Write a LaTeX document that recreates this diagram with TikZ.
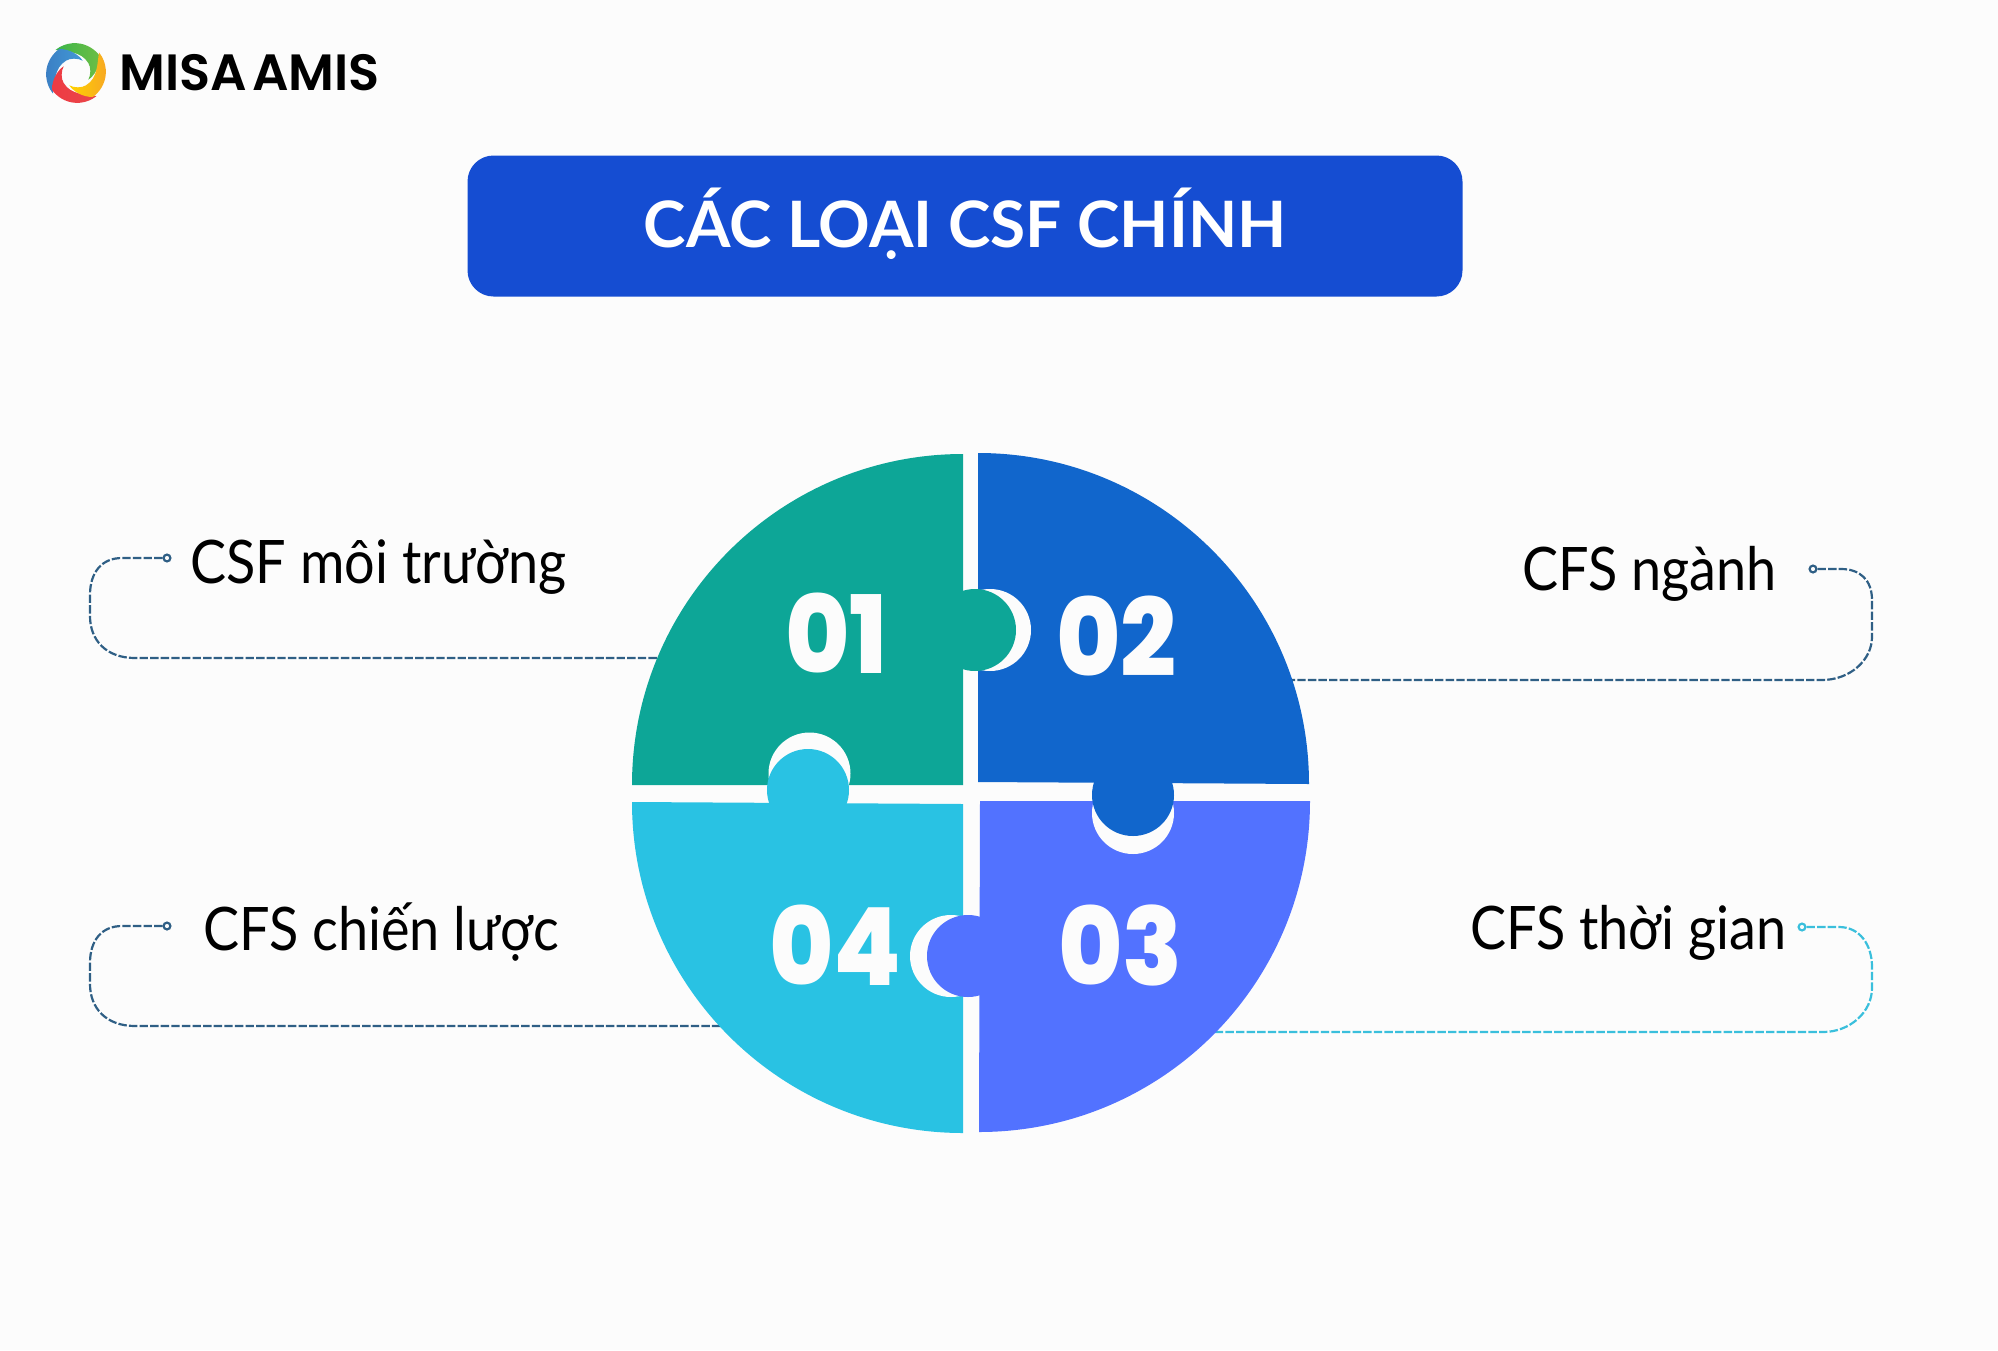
\documentclass[tikz,border=0pt]{standalone}
\usepackage{fontspec}
\setmainfont{Lato}[FakeStretch=0.9]
\newfontfamily\titlefont{Lato Bold}
\newfontfamily\logofont{Poppins SemiBold}
\newfontfamily\numfont{Poppins ExtraBold}[FakeStretch=0.91]
\definecolor{bgc}{HTML}{FCFCFC}
\definecolor{tealc}{HTML}{0DA697}
\definecolor{bluec}{HTML}{1166CC}
\definecolor{peric}{HTML}{5272FF}
\definecolor{cyanc}{HTML}{29C2E3}
\definecolor{titlec}{HTML}{154DD2}
\definecolor{linec}{HTML}{2F5F85}
\definecolor{linecy}{HTML}{3ABFDC}
\definecolor{lgreenA}{HTML}{3BB54A}\definecolor{lgreenB}{HTML}{6DBE45}
\definecolor{lblueA}{HTML}{4299D6}\definecolor{lblueB}{HTML}{3B7FC4}
\definecolor{lredA}{HTML}{EE3A43}\definecolor{lredB}{HTML}{E9474A}
\definecolor{lyelA}{HTML}{FFD200}\definecolor{lyelB}{HTML}{F7A823}
\tikzset{
  x=0.5pt,y=-0.5pt,
  conn/.style={line width=1.1pt,dash pattern=on 4.2pt off 1.1pt},
  pin/.style={circle,draw,line width=1.1pt,fill=bgc,inner sep=0pt,minimum size=3.4pt},
  lab/.style={font=\fontsize{30}{36}\selectfont,text=black,inner sep=0pt,anchor=base west},
  num/.style={font=\numfont\fontsize{54}{60}\selectfont,text=bgc,inner sep=0pt,anchor=base west},
}
\newcommand{\blade}{(24,-16.7) arc[start angle=-34.8,end angle=-129,radius=30.7] .. controls (-9,-21) and (5,-22) .. (12.3,-10) .. controls (15,-6) and (15,2) .. (12.3,6.7) .. controls (18,3) and (24,-6) .. (24,-16.7) -- cycle}
\begin{document}
\begin{tikzpicture}
\useasboundingbox (0,0) rectangle (1998,1350);
\fill[bgc] (0,0) rectangle (1998,1350);

% logo
\begin{scope}[shift={(76,73)}]
  \shade[left color=lgreenA,right color=lgreenB] \blade;
  \begin{scope}[rotate=90]
    \shade[left color=lblueB,right color=lblueA] \blade;
  \end{scope}
  \begin{scope}[rotate=180]
    \shade[left color=lredA,right color=lredB] \blade;
  \end{scope}
  \begin{scope}[rotate=-90]
    \shade[left color=lyelA,right color=lyelB] \blade;
  \end{scope}
\end{scope}
\node[inner sep=0pt,anchor=base west,font=\logofont\fontsize{25.5}{30}\selectfont] (logotext) at (119,90) {MISA\hspace{-3.5pt} AMIS};

% title
\node[fill=titlec,rounded corners=13pt,minimum width=497.5pt,minimum height=70.5pt,inner sep=0pt] (titlebox) at (965,226) {};
\node[text=white,font=\titlefont\fontsize{32}{40}\selectfont,inner sep=0pt] (titletext) at (965,224) {CÁC LOẠI CSF CHÍNH};

% connectors
\node[pin,draw=linec] (pa) at (167,558) {};
\coordinate (ea) at (670,658);
\draw[conn,linec] (pa.west) -- (122,558) .. controls (102,558) and (90,572) .. (90,595) -- (90,616) .. controls (90,640) and (106,658) .. (135,658) -- (ea);

\node[pin,draw=linec] (pb) at (1813,569) {};
\coordinate (eb) at (1280,680);
\draw[conn,linec] (pb.east) -- (1841,569) .. controls (1860,569) and (1872,580) .. (1872,600) -- (1872,637) .. controls (1872,660) and (1850,680) .. (1822,680) -- (eb);

\node[pin,draw=linecy] (pc) at (1802,927) {};
\coordinate (ec) at (1200,1032);
\draw[conn,linecy] (pc.east) -- (1839,927) .. controls (1860,927) and (1872,945) .. (1872,967) -- (1872,988) .. controls (1872,1012) and (1850,1032) .. (1823,1032) -- (ec);

\node[pin,draw=linec] (pd) at (167,926) {};
\coordinate (ed) at (735,1026);
\draw[conn,linec] (pd.west) -- (122,926) .. controls (102,926) and (90,940) .. (90,963) -- (90,984) .. controls (90,1008) and (106,1026) .. (135,1026) -- (ed);

% pieces
\newcommand{\qone}{(963,785) -- (632,785) arc[start angle=180,end angle=270,radius=331] -- cycle}
\newcommand{\qtwo}{(978,782) -- (978,453) arc[start angle=270,end angle=360,radius=331] -- cycle}
\newcommand{\qthree}{(980,801) -- (1310,801) arc[start angle=0,end angle=90,radius=331] -- cycle}
\newcommand{\qfour}{(963,804) -- (963,1133) arc[start angle=90,end angle=180,radius=331] -- cycle}

\fill[tealc] \qone;
\fill[bluec] \qtwo;
\fill[peric] \qthree;
\fill[cyanc] \qfour;
% notches
\begin{scope}\clip \qone; \fill[bgc] (809.5,773.5) circle[radius=41]; \end{scope}
\begin{scope}\clip \qtwo; \fill[bgc] (990,630) circle[radius=41]; \end{scope}
\begin{scope}\clip \qthree; \fill[bgc] (1133,813) circle[radius=41]; \end{scope}
\begin{scope}\clip \qfour; \fill[bgc] (951,956) circle[radius=41]; \end{scope}
% tabs
\fill[tealc] (975,630) circle[radius=41];
\fill[bluec] (1133,795) circle[radius=41];
\fill[peric] (968,956) circle[radius=41];
\fill[cyanc] (808,790) circle[radius=41];

% numbers
\node[num] (n1) at (785,673) {01};
\node[num] (n2) at (1056,676) {02};
\node[num] (n3) at (1058,985) {03};
\node[num] (n4) at (769,985) {04};

% labels
\node[lab] (l1) at (190,583) {CSF môi trường};
\node[lab] (l2) at (1522,590) {CFS ngành};
\node[lab] (l3) at (1470,949) {CFS thời gian};
\node[lab] (l4) at (203,950) {CFS chiến lược};
\end{tikzpicture}
\end{document}
